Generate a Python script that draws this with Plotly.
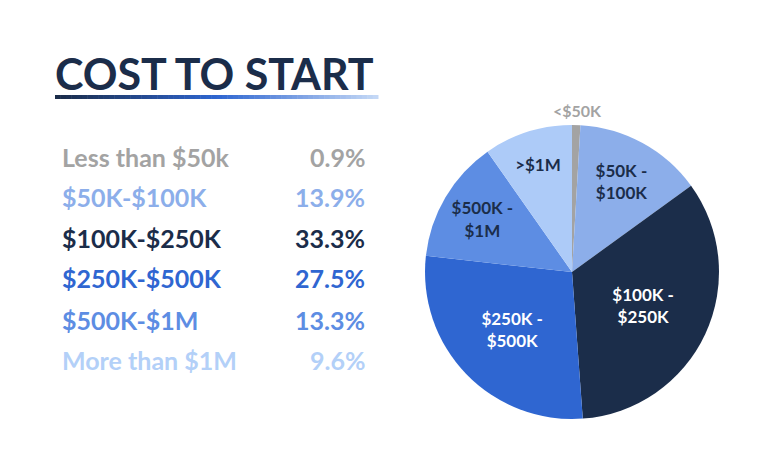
import plotly.graph_objects as go

# data
categories = ["Less than $50k", "$50K-$100K", "$100K-$250K", "$250K-$500K", "$500K-$1M", "More than $1M"]
slice_labels = ["", "$50K -<br>$100K", "$100K -<br>$250K", "$250K -<br>$500K", "$500K -<br>$1M", ">$1M"]
smallest_label = "<$50K"
shares = [0.9, 13.9, 33.3, 27.5, 13.3, 9.6]

colors = ["#A3A3A3", "#8CAEEA", "#1B2D4A", "#2F66D1", "#5D8DE3", "#ADCBF8"]
text_colors = ["#A3A3A3", "#1B2D4A", "#FFFFFF", "#FFFFFF", "#1B2D4A", "#1B2D4A"]
legend_colors = ["#A3A3A3", "#8CAEEA", "#1B2D4A", "#2F66D1", "#5D8DE3", "#B3D0F8"]

NAVY = "#1B2D4A"
FONT = "Lato"

fig = go.Figure(go.Pie(
    labels=categories,
    values=shares,
    text=slice_labels,
    texttemplate="%{text}",
    textposition="inside",
    insidetextorientation="horizontal",
    textfont=dict(family=FONT, size=17, color=text_colors, weight=700),
    marker=dict(colors=colors, line=dict(width=0)),
    sort=False,
    direction="clockwise",
    rotation=0,
    hoverinfo="label+percent",
    showlegend=False,
    domain=dict(x=[0.5534, 0.9362], y=[0.1134, 0.7437]),
))

# the sliver is too thin for an inside label, so it sits above the pie
fig.add_annotation(
    x=577, y=110, xref="x", yref="y", text=smallest_label, showarrow=False,
    xanchor="center", yanchor="middle",
    font=dict(family=FONT, size=16, color="#A3A3A3", weight=700),
)

# title with gradient underline
fig.add_annotation(
    x=53, y=73, xref="x", yref="y", text="<b>COST TO START</b>", showarrow=False,
    xanchor="left", yanchor="middle", font=dict(family=FONT, size=43, color=NAVY),
)
grad_start = (0x1B, 0x2D, 0x4A)
grad_mid = (0x2F, 0x66, 0xD1)
grad_end = (0xC4, 0xD8, 0xF6)
n_steps = 60
x0, x1 = 55, 378
for i in range(n_steps):
    t = i / (n_steps - 1)
    if t < 0.5:
        a, b, u = grad_start, grad_mid, t / 0.5
    else:
        a, b, u = grad_mid, grad_end, (t - 0.5) / 0.5
    c = tuple(int(a[k] + (b[k] - a[k]) * u) for k in range(3))
    sx0 = x0 + (x1 - x0) * i / n_steps
    sx1 = x0 + (x1 - x0) * (i + 1) / n_steps + 0.5
    fig.add_shape(
        type="rect", xref="x", yref="y", x0=sx0, x1=sx1, y0=95, y1=99,
        line=dict(width=0), fillcolor="rgb(%d,%d,%d)" % c, layer="above",
    )

# left-hand table of categories and shares
row_y = [157, 197, 238, 278, 320, 360]
for name, pct, col, yy in zip(categories, shares, legend_colors, row_y):
    fig.add_annotation(
        x=60, y=yy, xref="x", yref="y", text=name, showarrow=False,
        xanchor="left", yanchor="middle",
        font=dict(family=FONT, size=25, color=col, weight=700),
    )
    fig.add_annotation(
        x=367, y=yy, xref="x", yref="y", text=f"{pct:.1f}%", showarrow=False,
        xanchor="right", yanchor="middle",
        font=dict(family=FONT, size=25, color=col, weight=700),
    )

fig.update_layout(
    width=768, height=476,
    margin=dict(l=0, r=0, t=0, b=0),
    paper_bgcolor="white", plot_bgcolor="rgba(0,0,0,0)",
    xaxis=dict(range=[0, 768], visible=False, fixedrange=True),
    yaxis=dict(range=[476, 0], visible=False, fixedrange=True),
    font=dict(family=FONT),
)

# drop the default page margin so the figure sits flush in the window
fig.write_html(
    "out.html",
    config={"displayModeBar": False},
    post_script="document.body.style.margin='0';",
)
